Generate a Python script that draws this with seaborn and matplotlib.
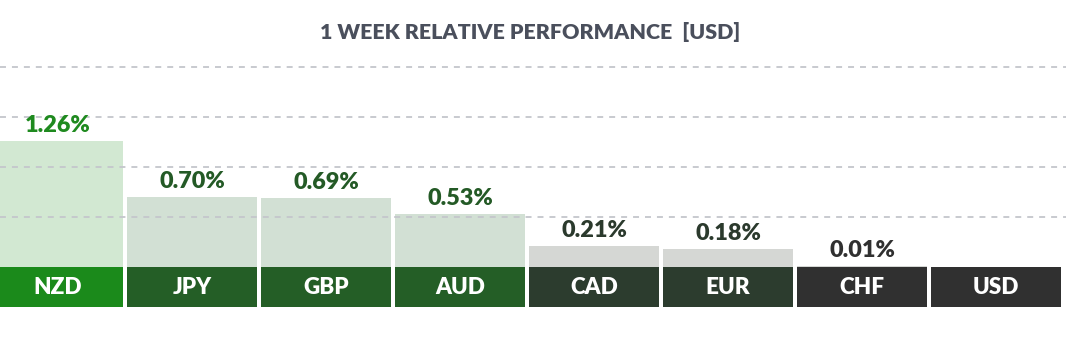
import matplotlib
matplotlib.use("Agg")
import matplotlib.pyplot as plt
from matplotlib import font_manager as fm
import seaborn as sns
import pandas as pd

# ---- data ----
currencies = ["NZD", "JPY", "GBP", "AUD", "CAD", "EUR", "CHF", "USD"]
performance = [1.26, 0.70, 0.69, 0.53, 0.21, 0.18, 0.01, 0.00]
title = "1 WEEK RELATIVE PERFORMANCE  [USD]"

# ---- styles ----
bar_colors = ["#d2e8d2", "#d2e0d4", "#d2e0d4", "#d2e0d4", "#d5d7d4", "#d5d7d4", "#d5d7d4", "#d5d7d4"]
band_colors = ["#1b8a1b", "#245e26", "#245e26", "#245e26", "#2c3c2e", "#2c3c2e", "#303030", "#303030"]
text_colors = ["#1f8a1f", "#245a26", "#245a26", "#245a26", "#2b3a2d", "#2b3a2d", "#303030", "#303030"]
BAND_H = 0.4
BAR_W = 130 / 134

sns.set_theme(style="white")
plt.rcParams["font.family"] = ["Lato", "DejaVu Sans"]
plt.rcParams["lines.scale_dashes"] = False


def lato(weight, size):
    path = None
    for f in fm.fontManager.ttflist:
        if f.name == "Lato" and f.style == "normal" and f.weight == weight:
            path = f.fname
            break
    if path is None:
        return fm.FontProperties(family="Lato", weight="bold", size=size)
    return fm.FontProperties(fname=path, size=size)


df = pd.DataFrame({"currency": currencies, "perf": performance})

fig = plt.figure(figsize=(10.66, 3.46), dpi=100)
ax = fig.add_axes([0, 0, 1, 1])

sns.barplot(data=df, x="currency", y="perf", hue="currency",
            palette=dict(zip(currencies, bar_colors)), width=BAR_W,
            legend=False, ax=ax, saturation=1, linewidth=0)

# label bands below the baseline
xs = list(range(len(currencies)))
ax.bar(xs, [-BAND_H] * len(xs), width=BAR_W, color=band_colors, linewidth=0, zorder=1)

band_fp = lato(800, 16.2)
val_fp = lato(800, 16.8)
for i, (cur, v) in enumerate(zip(currencies, performance)):
    ax.text(i, -BAND_H / 2, cur, ha="center", va="center", color="white",
            fontproperties=band_fp, zorder=4)
    if v > 0:
        ax.annotate(f"{v:.2f}%", (i, v), xytext=(0, 6.5), textcoords="offset points",
                    ha="center", va="baseline", color=text_colors[i],
                    fontproperties=val_fp, zorder=4)

ax.set_xlim(-58 / 134, (1066 - 58) / 134)
ax.set_ylim(-0.79, 2.67)
ax.set_yticks([0.5, 1.0, 1.5, 2.0])
ax.yaxis.grid(True, color="#c4c6cc", linewidth=1.3, linestyle=(0, (4.3, 4.3)))
ax.xaxis.grid(False)
ax.set_axisbelow(False)
ax.tick_params(length=0, labelleft=False, labelbottom=False)
ax.set_xlabel("")
ax.set_ylabel("")
for s in ax.spines.values():
    s.set_visible(False)

fig.text(530 / 1066, 1 - 32 / 346, title, ha="center", va="center",
         fontproperties=lato(800, 15.4), color="#4a4f5c")

fig.savefig("out.png", dpi=100)
